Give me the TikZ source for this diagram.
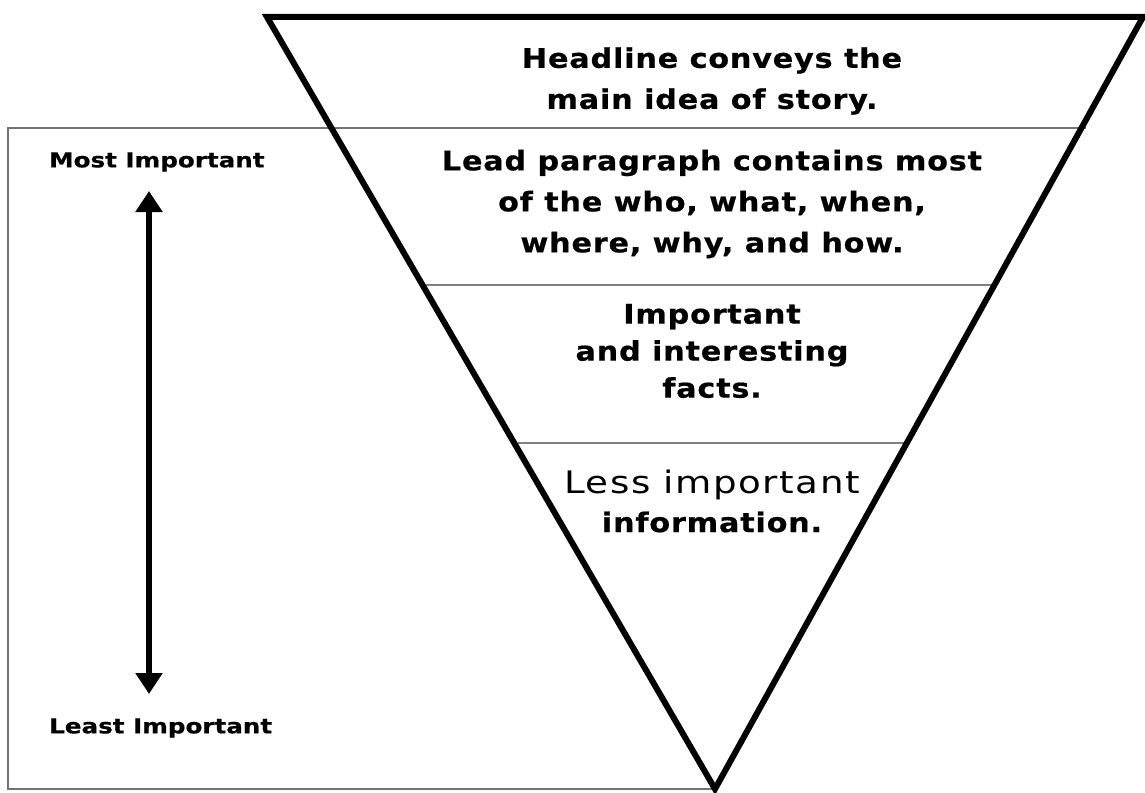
\documentclass[tikz,border=0pt]{standalone}
\usepackage{fontspec}
\setmainfont{DejaVu Sans}
\newfontfamily\widebold[FakeStretch=1.12,LetterSpace=3,FakeBold=0.6]{DejaVu Sans Bold}
\newfontfamily\wideplain[FakeStretch=1.2,LetterSpace=5]{DejaVu Sans}
\newfontfamily\sidebold[FakeStretch=1.2,FakeBold=0.6]{DejaVu Sans Bold}
\usetikzlibrary{arrows.meta}
\begin{document}
\begin{tikzpicture}[x=1pt,y=-1pt,
  frame/.style={draw=black!55,line width=2pt},
  divider/.style={draw=black!50,line width=1.8pt},
  funnel/.style={draw=black,line width=6pt,line join=miter},
  bigtext/.style={align=center,font=\fontsize{27}{41}\widebold,inner sep=0pt},
  sidetext/.style={font=\fontsize{20.5}{24}\sidebold,inner sep=0pt,anchor=west},
  scale arrow/.style={line width=6pt,{Triangle[length=21pt,width=26pt]}-{Triangle[length=21pt,width=26pt]}}]
\useasboundingbox (0,0) rectangle (1145,792);
% outline frame behind the funnel
\draw[frame] (715,789) -- (8,789) -- (8,128) -- (1086,128);
% dividers between the funnel's bands
\draw[divider] (426,285) -- (994,285);
\draw[divider] (518,443) -- (909,443);
% inverted triangle
\draw[funnel] (267,17) -- (1143,17) -- (715,789) -- cycle;
% band texts
\node[bigtext] (head) at (712,81) {Headline conveys the\\main idea of story.};
\node[bigtext] (lead) at (712,204) {Lead paragraph contains most\\of the who, what, when,\\where, why, and how.};
\node[bigtext,font=\fontsize{27}{37}\widebold] (facts) at (712,351) {Important\\and interesting\\facts.};
\node[bigtext,font=\fontsize{31}{39}\wideplain] (less) at (712,501) {Less important\\{\fontsize{27}{39}\widebold information.}};
% importance scale
\node[sidetext] (most) at (49,162) {Most Important};
\node[sidetext] (least) at (49,728) {Least Important};
\coordinate (top) at (149,191);
\coordinate (bot) at (149,694);
\draw[scale arrow] (top) -- (bot);
\end{tikzpicture}
\end{document}
